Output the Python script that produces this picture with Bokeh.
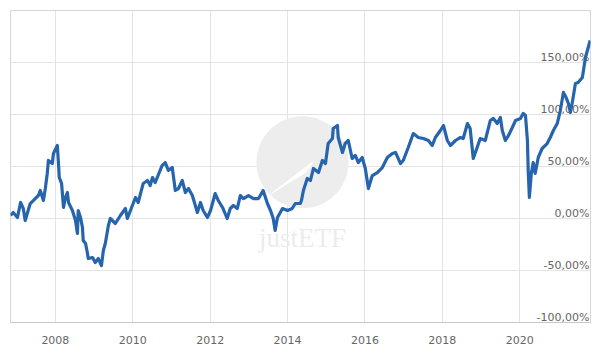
from bokeh.plotting import figure
from bokeh.models import (ColumnDataSource, FixedTicker, Grid, Label, Range1d)
from bokeh.core.properties import value
from bokeh.embed import file_html
from bokeh.resources import INLINE

# ---- data (decimal year, performance in %) ----
dates = [
    2006.84, 2006.91, 2007.02, 2007.10, 2007.17, 2007.22, 2007.35, 2007.48, 2007.56, 2007.61,
    2007.69, 2007.74, 2007.79, 2007.82, 2007.92, 2007.95, 2008.05, 2008.08, 2008.10, 2008.16,
    2008.21, 2008.26, 2008.31, 2008.34, 2008.44, 2008.52, 2008.57, 2008.59, 2008.65, 2008.70,
    2008.72, 2008.78, 2008.83, 2008.85, 2008.96, 2009.03, 2009.11, 2009.19, 2009.24,
    2009.29, 2009.37, 2009.42, 2009.55, 2009.68, 2009.81, 2009.86, 2009.99, 2010.07, 2010.14,
    2010.27, 2010.38, 2010.45, 2010.51, 2010.58, 2010.76, 2010.84, 2010.92, 2011.02, 2011.10,
    2011.18, 2011.28, 2011.36, 2011.44, 2011.54, 2011.67, 2011.75,
    2011.82, 2011.93, 2012.01, 2012.13, 2012.21, 2012.32, 2012.44, 2012.52, 2012.60, 2012.70,
    2012.78, 2012.86, 2012.99, 2013.12, 2013.25, 2013.37, 2013.48, 2013.56, 2013.63, 2013.68,
    2013.74, 2013.87, 2014.00, 2014.12, 2014.20, 2014.33,
    2014.36, 2014.41, 2014.51, 2014.59, 2014.67, 2014.80, 2014.90, 2014.98, 2015.05, 2015.16,
    2015.18, 2015.29, 2015.31, 2015.42, 2015.49, 2015.57, 2015.67, 2015.75, 2015.83, 2015.93,
    2016.01, 2016.09, 2016.19, 2016.32, 2016.45, 2016.58, 2016.71, 2016.79, 2016.92,
    2016.99, 2017.12, 2017.25, 2017.38, 2017.51, 2017.64, 2017.74, 2017.82, 2017.95, 2018.03,
    2018.13, 2018.21, 2018.34, 2018.47, 2018.54, 2018.65, 2018.72, 2018.80, 2018.90, 2018.98,
    2019.11, 2019.24, 2019.32, 2019.42,
    2019.50, 2019.55, 2019.63, 2019.71, 2019.81, 2019.89, 2020.02, 2020.09, 2020.15, 2020.20,
    2020.22, 2020.25, 2020.30, 2020.35, 2020.40, 2020.48, 2020.58, 2020.71, 2020.79, 2020.87,
    2020.97, 2021.05, 2021.13, 2021.20, 2021.26, 2021.31, 2021.36, 2021.44, 2021.51, 2021.62,
    2021.70, 2021.77, 2021.82,
]
performance = [
    2.9, 5.8, 1.0, 15.4, 9.6, -1.9, 14.4, 19.2, 22.1, 26.9,
    17.3, 28.8, 43.3, 55.8, 52.9, 62.5, 70.2, 52.9, 39.4, 33.7,
    10.6, 20.2, 25.0, 15.4, 7.7, -1.9, -14.4, 7.7, 1.0, -8.7,
    -21.2, -24.0, -33.7, -38.5, -37.5, -42.3, -38.5, -45.2, -30.8,
    -24.0, -6.7, 0.0, -4.8, 2.9, 9.6, 0.0, 12.5, 20.2, 15.4,
    33.7, 36.5, 31.7, 39.4, 34.6, 51.0, 53.8, 46.2, 49.0, 26.9,
    28.8, 36.5, 25.0, 28.8, 22.1, 5.8, 15.4,
    7.7, 1.0, 7.7, 24.0, 17.3, 10.6, 0.0, 9.6, 12.5, 9.6,
    22.1, 19.2, 22.1, 19.2, 19.2, 26.9, 14.4, 7.7, 0.0, -11.5,
    1.0, 9.6, 7.7, 9.6, 14.4, 14.4,
    17.3, 26.9, 38.5, 36.5, 48.1, 44.2, 55.8, 52.9, 72.1, 76.9,
    86.5, 89.4, 77.9, 63.5, 72.1, 75.0, 57.7, 60.6, 53.8, 58.7,
    48.1, 28.8, 41.3, 44.2, 49.0, 58.7, 62.5, 63.5, 52.9,
    55.8, 68.3, 81.7, 77.9, 76.9, 75.0, 70.2, 77.9, 84.6, 89.4,
    75.0, 70.2, 75.0, 77.9, 76.9, 91.3, 86.5, 57.7, 68.3, 76.9,
    75.0, 94.2, 96.2, 91.3,
    97.1, 84.6, 75.0, 79.8, 87.5, 94.2, 96.2, 101.0, 99.0, 75.0,
    46.2, 20.2, 43.3, 53.8, 43.3, 58.7, 67.3, 72.1, 77.9, 84.6,
    91.3, 103.8, 121.2, 116.3, 110.6, 101.9, 111.5, 129.8, 130.8, 135.6,
    154.8, 164.4, 171.2,
]
year_ticks = [2008, 2010, 2012, 2014, 2016, 2018, 2020]
pct_ticks = [-100, -50, 0, 50, 100, 150]
pct_labels = [f"{v:.2f}".replace(".", ",") + "%" for v in pct_ticks]

X0, X1 = 2006.84, 2021.83
Y0, Y1 = -100, 200

FONT = "DejaVu Sans"
LABEL_COLOR = "#666666"
GRID_COLOR = "#e3e3e3"

p = figure(width=600, height=360, output_backend="svg", toolbar_location=None,
           x_range=Range1d(X0, X1), y_range=Range1d(Y0, Y1),
           y_axis_location=None,
           min_border_left=10, min_border_right=10, min_border_top=10, min_border_bottom=38,
           background_fill_color="white", border_fill_color="white")
p.outline_line_color = "#d6d6d6"

# x axis
p.xaxis.ticker = FixedTicker(ticks=year_ticks)
p.xaxis.major_label_overrides = {y: str(y) for y in year_ticks}
p.xaxis.axis_line_color = "#c8c8c8"
p.xaxis.major_tick_line_color = None
p.xaxis.minor_tick_line_color = None
p.xaxis.major_label_standoff = 7
p.xaxis.major_label_text_font = FONT
p.xaxis.major_label_text_font_size = "11px"
p.xaxis.major_label_text_color = LABEL_COLOR

p.xgrid.ticker = FixedTicker(ticks=year_ticks)
p.xgrid.grid_line_color = GRID_COLOR
p.add_layout(Grid(dimension=1, ticker=FixedTicker(ticks=pct_ticks),
                  grid_line_color=GRID_COLOR))

# watermark
px_x = (X1 - X0) / 580.0
px_y = (Y1 - Y0) / 312.0
cx = (X0 + X1) / 2 + 2 * px_x
cy = 54.0
p.scatter(x=[cx], y=[cy], size=92, color="#ededed", line_color=None)
sw_dx = [-38, 12, 4]
sw_dy = [-36, 2, -10]
p.patch(x=[cx + d * px_x for d in sw_dx], y=[cy + d * px_y for d in sw_dy],
        color="white", line_color=None)
p.add_layout(Label(x=cx, y=cy - 76 * px_y, text="justETF", text_align="center",
                   text_baseline="middle", text_font="Liberation Serif",
                   text_font_size="27px", text_color="#ececec"))

# y tick labels inside the plot, right aligned
ysrc = ColumnDataSource(dict(x=[X1] * len(pct_ticks), y=pct_ticks, t=pct_labels))
p.text(x="x", y="y", text="t", source=ysrc, text_align="right", text_baseline="bottom",
       x_offset=-1, y_offset=1, text_font=value(FONT), text_font_size="11px",
       text_color=LABEL_COLOR)

# series
p.line(dates, performance, line_color="#2764ae", line_width=3.2, line_join="round")

# credit
p.add_layout(Label(x=X1, y=Y0, x_offset=-2, y_offset=-34, text="justETF.com",
                   text_align="right", text_baseline="bottom", text_font=FONT,
                   text_font_size="9px", text_color="#9a9a9a"))

open("out.html", "w").write(file_html(p, INLINE))
